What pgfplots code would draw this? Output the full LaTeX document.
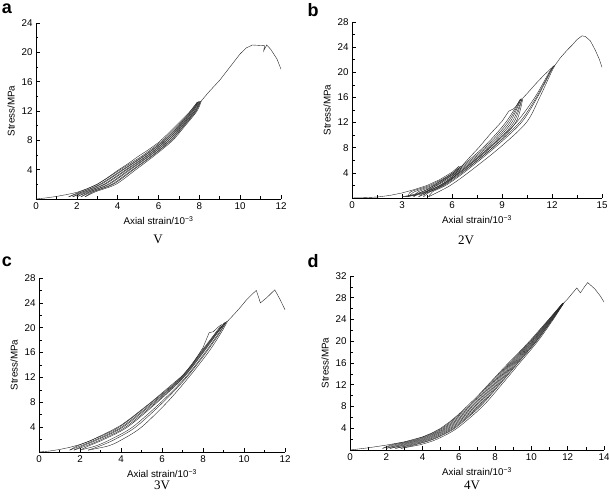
\documentclass[border=0pt]{standalone}
\usepackage{pgfplots}
\pgfplotsset{compat=1.18}
\usepackage{fontspec}
\setmainfont{Liberation Serif}
\newfontfamily\arial{Liberation Sans}

\pgfplotsset{
  panel/.style={
    scale only axis,
    axis x line*=bottom, axis y line*=left,
    axis line style={-, line width=0.7pt},
    tick align=inside,
    major tick length=4pt, minor tick length=2.5pt,
    every tick/.style={black, line width=0.6pt},
    xmin=0, ymin=0,
    ticklabel style={font=\arial\fontsize{9.8}{11}\selectfont},
    label style={font=\arial\fontsize{9.8}{11}\selectfont},
    /pgf/number format/assume math mode=true,
    xlabel={Axial strain/10\textsuperscript{−3}},
    ylabel={Stress/MPa},
    cycle list={{black, mark=none}},
    every axis plot/.append style={black!85, mark=none, line width=0.4pt},
  },
}

\begin{document}
\begin{tikzpicture}
\path[use as bounding box] (0,0) rectangle (609pt,497pt);

% ---------------- a: V ----------------
\begin{axis}[panel, at={(36pt,298pt)}, anchor=south west,
  width=245pt, height=176pt,
  xmax=12, ymax=24,
  xtick={0,2,...,12}, minor xtick={1,3,...,11},
  ytick={4,8,...,24}, minor ytick={2,6,...,22}]
\addplot[sharp plot] coordinates {(0,0) (0.5,0.15) (1,0.35) (1.5,0.6) (2,0.9) (2.5,1.4) (3,2.0) (3.5,2.9) (4,3.9) (4.5,4.8) (5,5.8) (5.5,6.7) (6,7.7) (6.5,9.0) (7,10.4) (7.5,11.8) (7.9,13.2)};
\addplot[smooth] coordinates {(7.90,13.2) (7.58,12) (6.94,10) (6.20,8) (5.26,6) (4.13,4) (2.99,2) (2.17,1) (1.6,0.3)};
\addplot[smooth] coordinates {(1.6,0.3) (2.28,1) (3.12,2) (4.24,4) (5.34,6) (6.27,8) (6.99,10) (7.62,12) (7.94,13.25)};
\addplot[smooth] coordinates {(7.94,13.25) (7.65,12) (7.02,10) (6.31,8) (5.38,6) (4.29,4) (3.19,2) (2.33,1) (1.8,0.3)};
\addplot[smooth] coordinates {(1.8,0.3) (2.44,1) (3.32,2) (4.40,4) (5.47,6) (6.38,8) (7.07,10) (7.69,12) (7.98,13.3)};
\addplot[smooth] coordinates {(7.98,13.3) (7.71,12) (7.10,10) (6.41,8) (5.51,6) (4.46,4) (3.38,2) (2.50,1) (2.0,0.3)};
\addplot[smooth] coordinates {(2.0,0.3) (2.60,1) (3.52,2) (4.56,4) (5.59,6) (6.49,8) (7.15,10) (7.76,12) (8.02,13.3)};
\addplot[smooth] coordinates {(8.02,13.3) (7.78,12) (7.18,10) (6.52,8) (5.63,6) (4.62,4) (3.58,2) (2.66,1) (2.2,0.3)};
\addplot[smooth] coordinates {(2.2,0.3) (2.77,1) (3.71,2) (4.73,4) (5.72,6) (6.59,8) (7.23,10) (7.82,12) (8.06,13.35)};
\addplot[smooth] coordinates {(8.06,13.35) (7.85,12) (7.26,10) (6.63,8) (5.76,6) (4.78,4) (3.78,2) (2.82,1) (2.4,0.3)};
\addplot[smooth] coordinates {(2.4,0.3) (2.93,1) (3.91,2) (4.89,4) (5.84,6) (6.70,8) (7.31,10) (7.89,12) (8.10,13.4)};
\addplot[sharp plot] coordinates {(8.10,13.4) (8.5,14.7) (9,16.2) (9.5,18.0) (10,19.8) (10.3,20.6) (10.6,21.0) (11.2,20.9) (11.15,20.2) (11.3,21.0) (11.5,20.4) (11.8,19.1) (12,17.7)};
\end{axis}

% ---------------- b: 2V ----------------
\begin{axis}[panel, at={(352pt,299pt)}, anchor=south west,
  width=250pt, height=176pt,
  xmax=15, ymax=28,
  xtick={0,3,...,15}, minor xtick={1.5,4.5,...,13.5},
  ytick={4,8,...,28}, minor ytick={2,6,...,26}]
\addplot[sharp plot] coordinates {(0,0) (0.75,0.05) (1.5,0.15) (2.25,0.4) (3,0.8) (3.75,1.35) (4.5,2.0) (5.25,2.9) (6,4.1) (6.4,5.0)};
\addplot[smooth] coordinates {(6.4,5.0) (6.05,4) (5.2,2.5) (4.4,1.2) (3.6,0.5) (3.0,0.2)};
\addplot[smooth] coordinates {(3.0,0.2) (3.8,0.5) (4.7,1.2) (5.6,2.5) (6.25,4) (6.5,5.05)};
\addplot[smooth] coordinates {(6.5,5.05) (6.15,4) (5.35,2.5) (4.55,1.2) (3.75,0.5) (3.2,0.2)};
\addplot[smooth] coordinates {(3.2,0.2) (3.95,0.5) (4.85,1.2) (5.75,2.5) (6.35,4) (6.6,5.1)};
\addplot[sharp plot] coordinates {(6.6,5.1) (7.0,6.3) (7.6,8.0) (8.3,10.2) (9.0,12.2) (9.4,13.8) (9.7,14.2) (9.85,14.6) (10.1,15.7)};
\addplot[smooth] coordinates {(10.1,15.7) (9.22,12) (7.86,8) (6.05,4) (4.65,2) (3.53,1) (3.4,0.2)};
\addplot[smooth] coordinates {(3.4,0.2) (3.75,1) (4.80,2) (6.15,4) (7.98,8) (9.34,12) (10.15,15.8)};
\addplot[smooth] coordinates {(10.15,15.8) (9.46,12) (8.09,8) (6.24,4) (4.95,2) (3.98,1) (3.7,0.2)};
\addplot[smooth] coordinates {(3.7,0.2) (4.2,1) (5.1,2) (6.34,4) (8.2,8) (9.58,12) (10.2,15.8)};
\addplot[smooth] coordinates {(10.2,15.8) (9.7,12) (8.31,8) (6.44,4) (5.25,2) (4.43,1) (4.0,0.2)};
\addplot[smooth] coordinates {(4.0,0.2) (4.65,1) (5.4,2) (6.53,4) (8.43,8) (9.82,12) (10.25,15.9)};
\addplot[sharp plot] coordinates {(10.25,15.9) (10.5,16.6) (11.0,18.1) (11.5,19.5) (12.1,21.0)};
\addplot[smooth] coordinates {(12.1,21.0) (11.83,20) (10.97,16) (9.85,12) (8.25,8) (6.43,4) (5.34,2) (4.48,1) (4.3,0.2)};
\addplot[smooth] coordinates {(4.3,0.2) (4.70,1) (5.52,2) (6.60,4) (8.44,8) (10.04,12) (11.06,16) (11.87,20) (12.15,21.1)};
\addplot[smooth] coordinates {(12.15,21.1) (11.9,20) (11.12,16) (10.16,12) (8.56,8) (6.70,4) (5.62,2) (4.84,1) (4.6,0.2)};
\addplot[smooth] coordinates {(4.6,0.2) (5.2,1) (5.9,2) (6.96,4) (8.86,8) (10.46,12) (11.26,16) (11.96,20) (12.2,21.2)};
\addplot[sharp plot] coordinates {(12.2,21.2) (12.5,22.3) (12.9,23.5) (13.2,24.3) (13.5,25.2) (13.8,25.8) (14.0,25.7) (14.3,25.0) (14.6,23.5) (14.85,22.0) (15,20.8)};
\end{axis}

% ---------------- c: 3V ----------------
\begin{axis}[panel, at={(39pt,45pt)}, anchor=south west,
  width=246pt, height=174pt,
  xmax=12, ymax=28,
  xtick={0,2,...,12}, minor xtick={1,3,...,11},
  ytick={4,8,...,28}, minor ytick={2,6,...,26}]
\addplot[sharp plot] coordinates {(0,0) (0.5,0.15) (1,0.4) (1.5,0.75) (2,1.2) (2.5,1.8) (3,2.6) (3.5,3.4) (4,4.3) (4.5,5.5) (5,6.8) (5.5,8.1) (6,9.5) (6.5,10.9) (7,12.3) (7.5,14.2) (8,16.8) (8.3,19.2) (8.5,19.35) (8.7,20.0) (8.9,20.5)};
\addplot[smooth] coordinates {(8.9,20.5) (8.57,19) (7.87,16) (6.92,12) (5.49,8) (3.91,4) (2.63,2) (1.88,1) (1.5,0.3)};
\addplot[smooth] coordinates {(1.5,0.3) (2.04,1) (2.78,2) (4.02,4) (5.57,8) (6.96,12) (7.91,16) (8.60,19) (9.05,20.8)};
\addplot[smooth] coordinates {(9.05,20.8) (8.62,19) (7.94,16) (6.99,12) (5.63,8) (4.10,4) (2.88,2) (2.15,1) (1.7,0.3)};
\addplot[smooth] coordinates {(1.7,0.3) (2.31,1) (3.03,2) (4.22,4) (5.71,8) (7.03,12) (7.98,16) (8.65,19) (9.1,20.9)};
\addplot[smooth] coordinates {(9.1,20.9) (8.67,19) (8.01,16) (7.06,12) (5.77,8) (4.31,4) (3.15,2) (2.44,1) (2.0,0.3)};
\addplot[smooth] coordinates {(2.0,0.3) (2.79,1) (3.48,2) (4.56,4) (5.95,8) (7.15,12) (8.10,16) (8.74,19) (9.15,21.0)};
\addplot[smooth] coordinates {(9.15,21.0) (8.78,19) (8.15,16) (7.2,12) (6.05,8) (4.71,4) (3.68,2) (3.0,1) (2.4,0.3)};
\addplot[smooth] coordinates {(2.4,0.3) (3.4,1) (4.05,2) (5.0,4) (6.25,8) (7.3,12) (8.25,16) (8.85,19) (9.2,21.05)};
\addplot[sharp plot] coordinates {(9.2,21.05) (9.5,22.1) (9.8,23.2) (10.1,24.4) (10.4,25.4) (10.6,26.0) (10.8,24.0) (11.1,24.8) (11.5,26.1) (11.75,24.6) (12,22.9)};
\end{axis}

% ---------------- d: 4V ----------------
\begin{axis}[panel, at={(350pt,47pt)}, anchor=south west,
  width=254pt, height=174pt,
  xmax=14, ymax=32,
  xtick={0,2,...,14}, minor xtick={1,3,...,13},
  ytick={4,8,...,32}, minor ytick={2,6,...,30}]
\addplot[sharp plot] coordinates {(0,0) (1,0.4) (2,0.9) (3,1.5) (4,2.4) (4.5,3.1) (5,4.0) (5.5,5.2) (6,6.6) (6.5,8.2) (7,9.8) (7.5,11.6) (8,13.4) (8.5,15.2) (9,16.9) (9.5,18.6) (10,20.4) (10.5,22.3) (11,24.2) (11.7,26.9)};
\addplot[smooth] coordinates {(11.7,26.9) (10.97,24) (9.94,20) (8.80,16) (7.66,12) (6.52,8) (5.07,4) (3.65,2) (2.34,1) (1.8,0.3)};
\addplot[smooth] coordinates {(1.8,0.3) (2.51,1) (3.78,2) (5.16,4) (6.60,8) (7.74,12) (8.86,16) (9.98,20) (11.0,24) (11.72,26.95)};
\addplot[smooth] coordinates {(11.72,26.95) (11.02,24) (10.03,20) (8.92,16) (7.81,12) (6.69,8) (5.25,4) (3.90,2) (2.68,1) (2.0,0.3)};
\addplot[smooth] coordinates {(2.0,0.3) (2.85,1) (4.03,2) (5.34,4) (6.77,8) (7.89,12) (8.98,16) (10.07,20) (11.05,24) (11.74,27.0)};
\addplot[smooth] coordinates {(11.74,27.0) (11.07,24) (10.12,20) (9.04,16) (7.96,12) (6.86,8) (5.43,4) (4.15,2) (3.02,1) (2.2,0.3)};
\addplot[smooth] coordinates {(2.2,0.3) (3.19,1) (4.28,2) (5.52,4) (6.94,8) (8.04,12) (9.10,16) (10.16,20) (11.10,24) (11.76,27.0)};
\addplot[smooth] coordinates {(11.76,27.0) (11.12,24) (10.21,20) (9.16,16) (8.11,12) (7.03,8) (5.61,4) (4.40,2) (3.36,1) (2.5,0.3)};
\addplot[smooth] coordinates {(2.5,0.3) (3.53,1) (4.53,2) (5.70,4) (7.11,8) (8.19,12) (9.22,16) (10.25,20) (11.15,24) (11.78,27.05)};
\addplot[smooth] coordinates {(11.78,27.05) (11.16,24) (10.28,20) (9.26,16) (8.24,12) (7.17,8) (5.77,4) (4.61,2) (3.65,1) (2.8,0.3)};
\addplot[smooth] coordinates {(2.8,0.3) (3.9,1) (4.8,2) (5.9,4) (7.3,8) (8.35,12) (9.35,16) (10.35,20) (11.2,24) (11.8,27.1)};
\addplot[sharp plot] coordinates {(11.8,27.1) (12.0,27.8) (12.25,28.8) (12.5,29.8) (12.7,28.9) (12.9,29.9) (13.1,30.8) (13.5,29.6) (13.8,28.3) (14,27.2)};
\end{axis}

% panel letters and captions
\node[font=\arial\bfseries\fontsize{18}{18}\selectfont] at (7pt,488pt) {a};
\node[font=\arial\bfseries\fontsize{18}{18}\selectfont] at (313pt,487pt) {b};
\node[font=\arial\bfseries\fontsize{18}{18}\selectfont] at (7pt,235pt) {c};
\node[font=\arial\bfseries\fontsize{18}{18}\selectfont] at (313pt,236pt) {d};
\node[font=\fontsize{13}{13}\selectfont] at (158pt,258pt) {V};
\node[font=\fontsize{13}{13}\selectfont] at (466pt,257pt) {2V};
\node[font=\fontsize{13}{13}\selectfont] at (162pt,12pt) {3V};
\node[font=\fontsize{13}{13}\selectfont] at (472pt,12pt) {4V};
\end{tikzpicture}
\end{document}
